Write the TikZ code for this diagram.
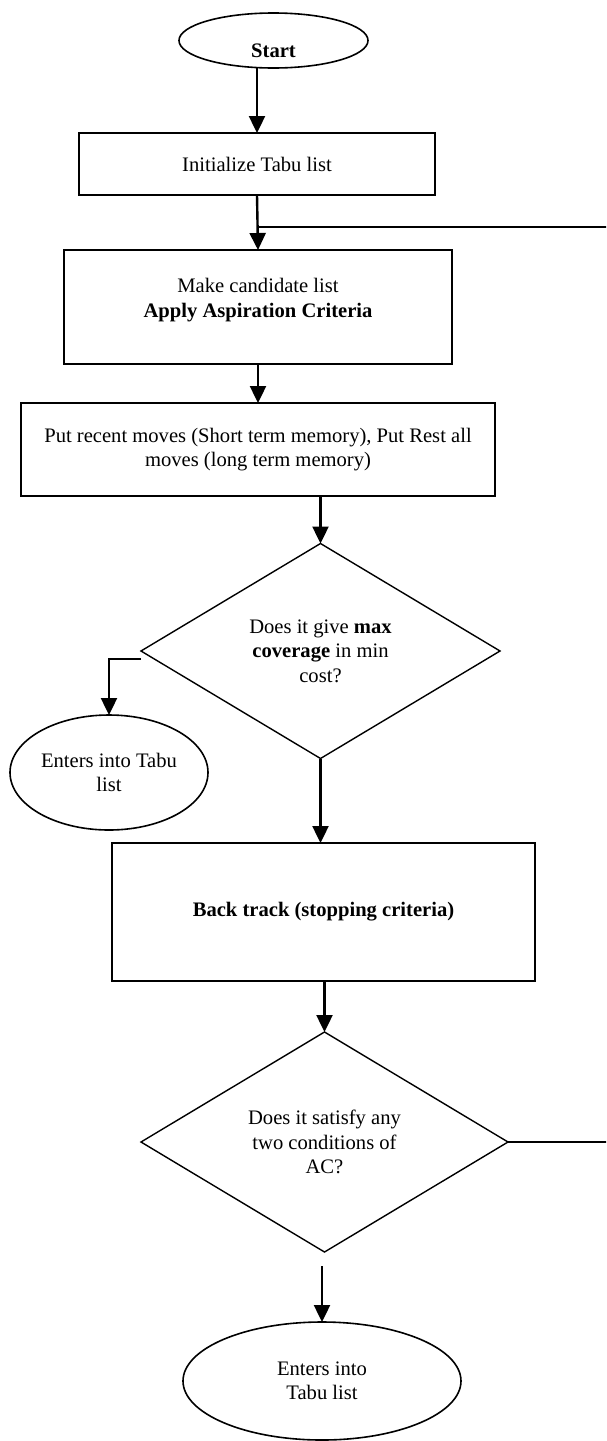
\documentclass[tikz,border=0pt]{standalone}
\usepackage{fontspec}
\setmainfont{Liberation Serif}
\usetikzlibrary{shapes.geometric,arrows.meta}
\begin{document}
\begin{tikzpicture}[x=1pt,y=-1pt,
  every node/.style={font=\fontsize{20.6}{24.5}\selectfont, align=center, inner sep=0pt, outer sep=0pt},
  stepbox/.style={draw, rectangle, line width=1.9pt},
  termnode/.style={draw, ellipse, line width=1.6pt},
  decision/.style={draw, diamond, aspect=1.7, line width=1.4pt},
  flow/.style={line width=2.4pt, -{Triangle[length=17pt,width=16pt]}},
  loopline/.style={line width=1.5pt},
]
\useasboundingbox (0,0) rectangle (606,1441);
\clip (0,0) rectangle (606,1441);

% shapes
\node[termnode, minimum width=189pt, minimum height=55pt] (start) at (273.5,40.5) {};
\node[font=\fontsize{20.6}{24.5}\selectfont\bfseries] (starttext) at (273.5,51) {Start};

\node[stepbox, minimum width=356pt, minimum height=62pt] (init) at (257,164) {Initialize Tabu list};

\node[stepbox, minimum width=388pt, minimum height=114pt] (make) at (258,307) {};
\node (maketext) at (258,300) {Make candidate list\\\textbf{Apply Aspiration Criteria}};

\node[stepbox, minimum width=474pt, minimum height=93pt] (put) at (258,449.5)
  {Put recent moves (Short term memory), Put Rest all\\moves (long term memory)};

\node[decision, minimum width=359pt, minimum height=215pt] (d1) at (320.5,651)
  {Does it give \textbf{max}\\\textbf{coverage} in min\\cost?};

\node[termnode, minimum width=198pt, minimum height=115pt] (ent1) at (109,772.5)
  {Enters into Tabu\\list};

\node[stepbox, minimum width=423pt, minimum height=138pt] (back) at (323.5,912)
  {\textbf{Back track (stopping criteria)}};

\node[decision, minimum width=367pt, minimum height=220pt] (d2) at (324.5,1142)
  {Does it satisfy any\\two conditions of\\AC?};

\node[termnode, minimum width=278pt, minimum height=118pt] (ent2) at (322,1381)
  {Enters into\\Tabu list};

% helper points
\coordinate (loopin) at (257,227);
\coordinate (loopx) at (625,0);
\coordinate (d1out) at ([yshift=-8pt]d1.west);
\coordinate (d2gap) at ([yshift=-14pt]d2.south);

% connectors
\draw[flow] (init.north |- start.south) -- (init.north);
\draw[flow] (init.south) -- (make.north);
\draw[flow] (make.south) -- (make.south |- put.north);
\draw[flow] (put.south -| d1.north) -- (d1.north);
\draw[flow] (d1out) -| (ent1.north);
\draw[flow] (d1.south) -- (d1.south |- back.north);
\draw[flow] (back.south -| d2.north) -- (d2.north);
\draw[flow] (ent2.north |- d2gap) -- (ent2.north);
\draw[loopline] (d2.east) -- (d2.east -| loopx) |- (loopin);
\end{tikzpicture}
\end{document}
